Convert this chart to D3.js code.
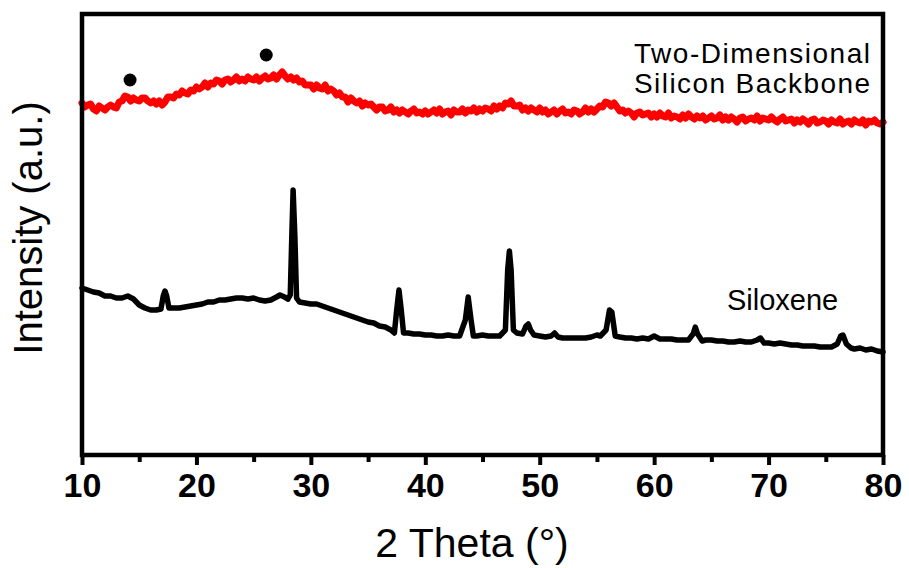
<!DOCTYPE html>
<html>
<head>
<meta charset="utf-8">
<script src="https://cdn.jsdelivr.net/npm/d3@7"></script>
<style>
  body { margin: 0; background: #fff; }
  text { font-family: "Liberation Sans", Arial, sans-serif; }
</style>
</head>
<body>
<div id="chart"></div>
<script>
const redTheta = d3.range(0, 281).map(i => 10 + i * 0.25)
const redIntensity = [
  357,353,355,356,351,349,354,352,350,353,355,353,352,358,359,364,363,359,362,360,
  359,362,362,359,357,359,356,359,355,358,363,363,362,366,365,369,367,366,370,369,
  373,371,373,377,373,377,376,380,379,376,380,381,378,380,383,379,381,379,383,381,
  380,383,379,382,384,381,382,385,381,385,388,384,381,383,380,382,378,379,375,375,
  375,371,375,372,371,375,369,371,369,365,367,363,363,358,362,359,357,359,354,357,
  355,356,353,350,353,353,349,350,353,348,350,347,350,348,346,349,351,347,348,346,
  349,346,348,350,347,351,346,348,349,345,350,348,348,351,347,350,349,352,348,351,
  349,352,351,349,354,351,354,352,357,356,359,354,354,355,350,352,349,352,350,348,
  352,348,350,346,348,350,346,349,351,347,348,346,350,349,346,348,352,348,351,348,
  351,354,353,358,357,354,357,353,349,350,347,349,347,343,347,348,345,346,347,343,
  346,343,347,344,343,347,342,344,343,341,345,342,346,343,341,344,342,344,340,342,
  344,341,342,345,340,343,340,343,341,338,342,343,339,341,342,340,344,339,342,341,
  340,343,340,338,341,343,339,340,341,337,340,338,341,339,336,340,341,337,338,340,
  339,336,340,338,337,341,336,338,339,336,340,338,337,340,335,339,338,340,337,336,
  338]

// Siloxene
const blackTheta = [10,10.5,11,11.5,12,12.5,13,13.5,14,14.5,15,15.5,16,16.5,16.9,17.1,17.25,17.4,17.6,18,18.5,19,19.5,20,20.5,21,21.5,22,22.5,23,23.5,24,24.5,25,25.5,26,26.5,27,27.3,27.7,28,28.2,28.35,28.45,28.6,28.75,29,29.5,30,30.5,31,31.5,32,32.5,33,33.5,34,34.5,35,35.5,36,36.5,37,37.3,37.5,37.7,37.9,38.1,38.5,39,39.5,40,40.5,41,41.5,42,42.5,43,43.5,43.75,44,44.2,44.5,45,45.5,46,46.5,47,47.2,47.35,47.5,47.7,48,48.5,48.8,49,49.2,49.5,50,50.5,51,51.3,51.6,52,52.5,53,53.5,54,54.5,55,55.3,55.8,56.1,56.3,56.6,57,57.5,58,58.5,59,59.5,60,60.5,61,61.5,62,62.5,63,63.4,63.6,63.8,64.2,64.5,65,65.5,66,66.5,67,67.5,68,68.5,69,69.3,69.6,70,70.5,71,71.5,72,72.5,73,73.5,74,74.5,75,75.5,76,76.3,76.5,76.8,77.2,77.5,78,78.5,79,79.5,80]
const blackIntensity = [172,170,168,167,164,164,162,162,164,161,155,152,150,150,151,164,169,164,152,152,152,153,154,155,156,158,158,160,160,161,162,162,161,162,160,159,160,163,165,163,161,165,230,270,225,162,158,157,156,156,154,152,150,148,146,144,142,140,138,137,134,133,130,127,150,170,150,127,127,126,126,125,125,124,124,125,124,124,140,163,140,124,124,125,124,124,124,130,190,209,190,130,127,126,134,136,130,125,124,123,124,127,123,122,122,122,122,122,123,125,124,130,150,148,124,123,122,122,121,122,121,124,121,121,121,120,120,120,126,133,126,119,120,120,119,119,118,118,119,118,118,120,122,117,117,116,117,116,115,115,114,114,114,113,113,113,116,124,125,116,112,111,112,110,111,109,108]

// peak markers
const markerTheta = [14.2, 26.1]
const markerIntensity = [380, 405]

const xTicks = [10,20,30,40,50,60,70,80]
const xMinorTicks = [15,25,35,45,55,65,75]

const redData = redTheta.map((t, i) => ({theta: t, intensity: redIntensity[i]}))
const blackData = blackTheta.map((t, i) => ({theta: t, intensity: blackIntensity[i]}))
const markers = markerTheta.map((t, i) => ({theta: t, intensity: markerIntensity[i]}))

const width = 909
const height = 568
const bounds = {left: 82, right: 883, top: 14, bottom: 455}

const svg = d3.select("#chart")
  .append("svg")
    .attr("width", width)
    .attr("height", height)

const xScale = d3.scaleLinear()
  .domain([10, 80])
  .range([bounds.left, bounds.right])

const yScale = d3.scaleLinear()
  .domain([5, 446])
  .range([bounds.bottom, bounds.top])

const lineGenerator = d3.line()
  .x(d => xScale(d.theta))
  .y(d => yScale(d.intensity))

svg.append("path")
  .datum(redData)
  .attr("d", lineGenerator)
  .attr("fill", "none")
  .attr("stroke", "#ff0000")
  .attr("stroke-width", 7)
  .attr("stroke-linejoin", "round")
  .attr("stroke-linecap", "round")

svg.append("path")
  .datum(blackData)
  .attr("d", lineGenerator)
  .attr("fill", "none")
  .attr("stroke", "#000")
  .attr("stroke-width", 5.5)
  .attr("stroke-linejoin", "round")
  .attr("stroke-linecap", "round")

svg.selectAll(".marker")
  .data(markers)
  .join("circle")
    .attr("cx", d => xScale(d.theta))
    .attr("cy", d => yScale(d.intensity))
    .attr("r", 6.5)
    .attr("fill", "#000")

// x axis: major then minor ticks
const xAxis = d3.axisBottom(xScale)
  .tickValues(xTicks)
  .tickSize(10)
  .tickPadding(8)
  .tickSizeOuter(0)

const axisGroup = svg.append("g")
  .attr("transform", `translate(0,${bounds.bottom})`)
  .call(xAxis)
axisGroup.select(".domain").remove()
axisGroup.selectAll("line").attr("stroke", "#000").attr("stroke-width", 4)
axisGroup.selectAll("text")
  .attr("font-size", 34)
  .attr("font-weight", "bold")
  .attr("fill", "#000")
  .style("font-family", "'Liberation Sans', Arial, sans-serif")

const minorAxis = d3.axisBottom(xScale)
  .tickValues(xMinorTicks)
  .tickSize(7)
  .tickFormat("")
const minorGroup = svg.append("g")
  .attr("transform", `translate(0,${bounds.bottom})`)
  .call(minorAxis)
minorGroup.select(".domain").remove()
minorGroup.selectAll("line").attr("stroke", "#000").attr("stroke-width", 4)

// frame
svg.append("rect")
  .attr("x", bounds.left)
  .attr("y", bounds.top)
  .attr("width", bounds.right - bounds.left)
  .attr("height", bounds.bottom - bounds.top)
  .attr("fill", "none")
  .attr("stroke", "#000")
  .attr("stroke-width", 4.5)

// labels
svg.append("text")
  .attr("x", 472)
  .attr("y", 557)
  .attr("text-anchor", "middle")
  .attr("font-size", 41)
  .text("2 Theta (°)")

svg.append("text")
  .attr("transform", `translate(42,${228}) rotate(-90)`)
  .attr("text-anchor", "middle")
  .attr("font-size", 40)
  .text("Intensity (a.u.)")

svg.append("text")
  .attr("x", 870)
  .attr("y", 63)
  .attr("text-anchor", "end")
  .attr("font-size", 28)
  .attr("textLength", 236)
  .text("Two-Dimensional")

svg.append("text")
  .attr("x", 870)
  .attr("y", 93)
  .attr("text-anchor", "end")
  .attr("font-size", 28)
  .attr("textLength", 236)
  .text("Silicon Backbone")

svg.append("text")
  .attr("x", 727)
  .attr("y", 310)
  .attr("font-size", 29)
  .text("Siloxene")
</script>
</body>
</html>
